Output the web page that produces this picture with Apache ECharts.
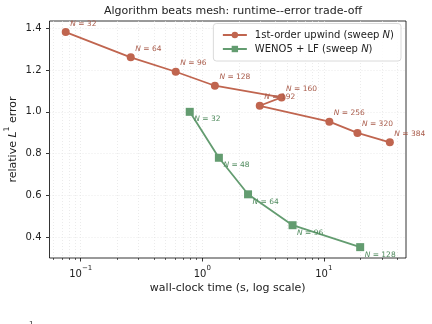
<!DOCTYPE html>
<html>
<head>
<meta charset="utf-8">
<script src="https://cdn.jsdelivr.net/npm/echarts@6/dist/echarts.min.js"></script>
<style>
  html, body { margin: 0; padding: 0; background: #fff; }
  #chart { width: 432px; height: 324px; }
</style>
</head>
<body>
<div id="chart"></div>
<script>
// sweep resolutions and measured (time [s], relative L1 error)
const upwindN = [32, 64, 96, 128, 160, 192, 256, 320, 384]
const upwindTime = [0.0753, 0.258, 0.605, 1.27, 4.49, 2.97, 11.1, 18.9, 34.9]
const upwindErr = [1.382, 1.261, 1.192, 1.125, 1.069, 1.029, 0.953, 0.899, 0.854]

const wenoN = [32, 48, 64, 96, 128]
const wenoTime = [0.789, 1.37, 2.38, 5.53, 19.9]
const wenoErr = [1.0, 0.780, 0.605, 0.457, 0.352]

const yTicks = [0.4, 0.6, 0.8, 1.0, 1.2, 1.4]
const xMajor = [0.1, 1, 10]
const xMinor = [0.06, 0.07, 0.08, 0.09, 0.2, 0.3, 0.4, 0.5, 0.6, 0.7, 0.8, 0.9,
  2, 3, 4, 5, 6, 7, 8, 9, 20, 30, 40]

const RED = '#c0654f'
const GREEN = '#639c70'
const FONT = 'DejaVu Sans'

const X_MIN = 0.0554, X_MAX = 47.4
const Y_MIN = 0.300, Y_MAX = 1.435

function supRich(size) {
  return {
    b: { fontFamily: FONT, fontSize: size, color: '#222', lineHeight: size + 4, verticalAlign: 'bottom' },
    bi: { fontFamily: FONT, fontSize: size, color: '#222', fontStyle: 'italic', lineHeight: size + 4, verticalAlign: 'bottom' },
    s: { fontFamily: FONT, fontSize: size * 0.7, color: '#222', lineHeight: size * 0.7, verticalAlign: 'top' }
  }
}

function pointLabel(color, ns, dy) {
  return {
    show: true,
    position: 'inside',
    align: 'left',
    verticalAlign: 'middle',
    offset: [4.5, dy],
    fontFamily: FONT,
    fontSize: 7.5,
    color: color,
    formatter: p => '{i|N} = ' + ns[p.dataIndex],
    rich: { i: { fontStyle: 'italic', fontFamily: FONT, fontSize: 7.5, color: color } }
  }
}

const gridLine = { show: true, lineStyle: { color: '#e2e2e2', width: 0.7, type: [1, 2] } }

const option = {
  animation: false,
  backgroundColor: '#fff',
  title: {
    text: 'Algorithm beats mesh: runtime--error trade-off',
    left: 228,
    top: 1,
    textAlign: 'center',
    textStyle: { fontFamily: FONT, fontSize: 11, fontWeight: 'normal', color: '#222' }
  },
  legend: {
    orient: 'vertical',
    right: 31,
    top: 23.5,
    padding: [6.5, 7, 7, 8.5],
    itemWidth: 24,
    itemHeight: 8,
    itemGap: 4,
    borderColor: '#d0d0d0',
    borderWidth: 0.8,
    borderRadius: 3,
    backgroundColor: 'rgba(255,255,255,0.85)',
    textStyle: {
      fontFamily: FONT, fontSize: 10, color: '#222', padding: [0, 0, 0, 3],
      rich: { i: { fontFamily: FONT, fontSize: 10, fontStyle: 'italic', color: '#222', padding: [0, 0, 0, 0] } }
    },
    formatter: name => name.replace(/N\)$/, '{i|N})'),
    data: ['1st-order upwind (sweep N)', 'WENO5 + LF (sweep N)']
  },
  grid: {
    left: 49.5, right: 26, top: 21, bottom: 66,
    containLabel: false, outerBoundsMode: 'none',
    show: true, borderColor: '#000', borderWidth: 0.8, backgroundColor: '#fff'
  },
  xAxis: [
    {
      type: 'log', logBase: 10, min: X_MIN, max: X_MAX,
      name: 'wall-clock time (s, log scale)',
      nameLocation: 'middle', nameGap: 25, nameMoveOverlap: false,
      nameTextStyle: { fontFamily: FONT, fontSize: 11, color: '#222' },
      axisLine: { show: false },
      axisTick: { show: true, length: 3.5, inside: false, customValues: xMajor, lineStyle: { color: '#000', width: 0.8 } },
      axisLabel: {
        show: true, customValues: xMajor, margin: 7,
        formatter: v => '{b|10}{s|' + String(Math.round(Math.log10(v))).replace('-', '\u2212') + '}',
        rich: supRich(10)
      },
      splitLine: gridLine
    },
    {
      type: 'log', logBase: 10, min: X_MIN, max: X_MAX, position: 'bottom',
      axisLine: { show: false },
      axisTick: { show: true, length: 2, customValues: xMinor, lineStyle: { color: '#000', width: 0.6 } },
      axisLabel: { show: false },
      splitLine: gridLine
    }
  ],
  yAxis: {
    type: 'value', min: Y_MIN, max: Y_MAX,
    name: '{b|relative }{bi|L}{s|1}{b| error}',
    nameLocation: 'middle', nameGap: 31, nameRotate: 90, nameMoveOverlap: false,
    nameTextStyle: { rich: supRich(11) },
    axisLine: { show: false },
    axisTick: { show: true, length: 3.5, customValues: yTicks, lineStyle: { color: '#000', width: 0.8 } },
    axisLabel: {
      show: true, customValues: yTicks, margin: 8,
      fontFamily: FONT, fontSize: 10, color: '#222',
      formatter: v => v.toFixed(1)
    },
    splitLine: gridLine
  },
  graphic: [
    { type: 'text', left: 29, top: 321, style: { text: '1', fontFamily: FONT, fontSize: 7, fill: '#222' } }
  ],
  series: [
    {
      name: '1st-order upwind (sweep N)',
      type: 'line',
      data: upwindTime.map((t, i) => [t, upwindErr[i]]),
      symbol: 'circle', symbolSize: 8,
      itemStyle: { color: RED },
      lineStyle: { color: RED, width: 1.8 },
      label: pointLabel('#a85a49', upwindN, -8.5),
      z: 3
    },
    {
      name: 'WENO5 + LF (sweep N)',
      type: 'line',
      data: wenoTime.map((t, i) => [t, wenoErr[i]]),
      symbol: 'rect', symbolSize: 8,
      itemStyle: { color: GREEN },
      lineStyle: { color: GREEN, width: 1.8 },
      label: pointLabel('#4f8a5d', wenoN, 7.5),
      z: 4
    }
  ]
}

const chart = echarts.init(document.getElementById('chart'), null, { renderer: 'canvas' })
chart.setOption(option)
</script>
</body>
</html>
